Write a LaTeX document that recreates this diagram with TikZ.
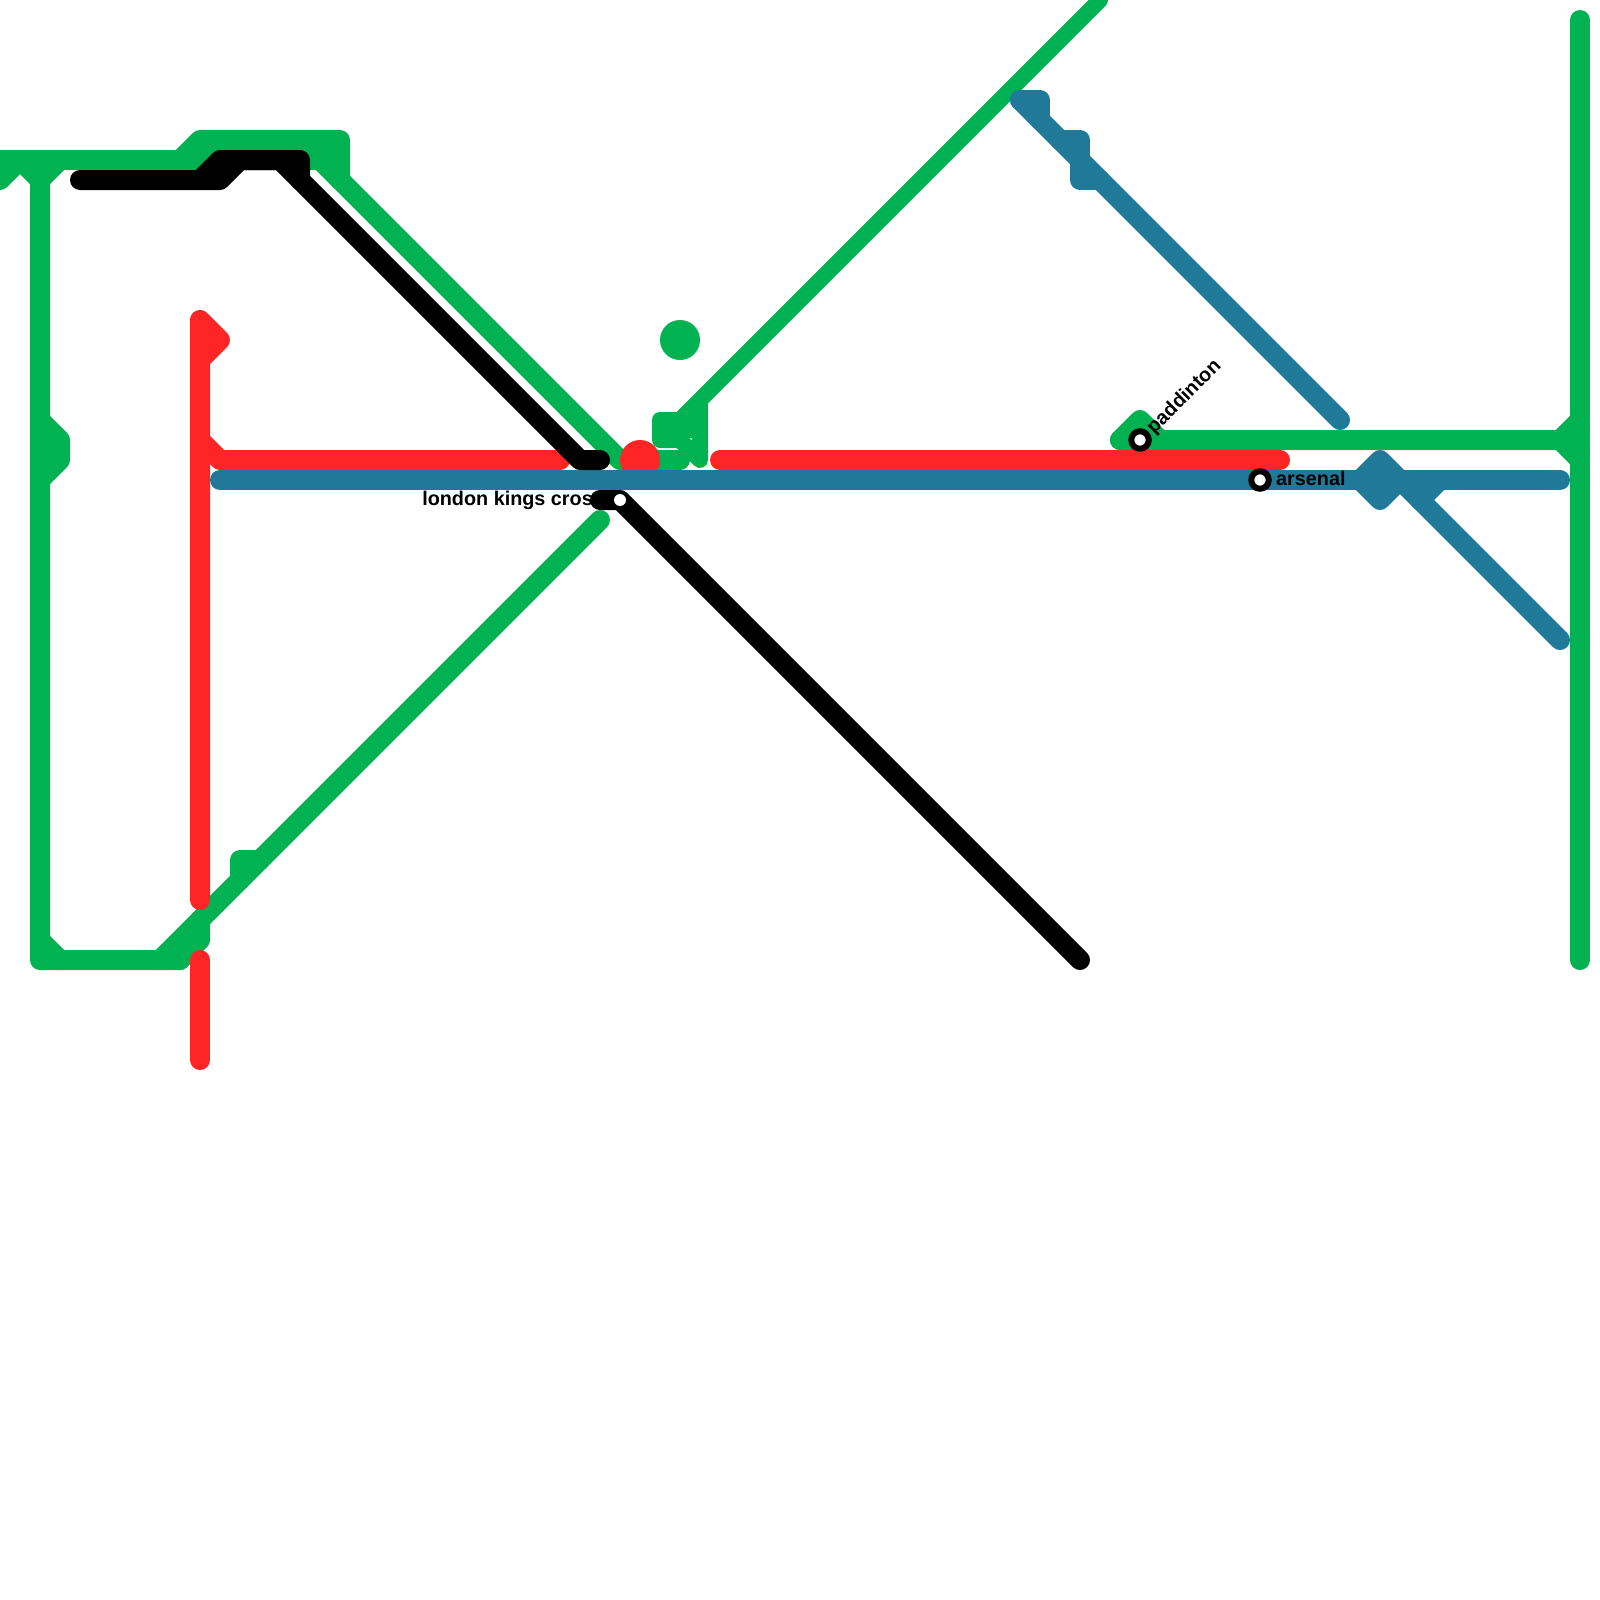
\documentclass[tikz,border=0pt]{standalone}
\usepackage{fontspec}
\setmainfont{Liberation Sans}
\definecolor{lgreen}{HTML}{00B251}
\definecolor{lred}{HTML}{FF2526}
\definecolor{lblue}{HTML}{21799A}
\tikzset{
  metro/.style={line width=20pt,line cap=round,line join=round},
  greenline/.style={metro,draw=lgreen},
  thingreen/.style={metro,draw=lgreen,line width=16pt},
  redline/.style={metro,draw=lred},
  blueline/.style={metro,draw=lblue},
  blackline/.style={metro,draw=black},
  ring/.style={circle,draw=black,fill=white,line width=6pt,minimum size=17.5pt,inner sep=0pt},
  whitedot/.style={circle,fill=white,minimum size=12pt,inner sep=0pt},
  stationlabel/.style={font=\bfseries\fontsize{19.8}{20}\selectfont,text=black,inner sep=0pt}
}
\begin{document}
\begin{tikzpicture}[x=1pt,y=-1pt]
\useasboundingbox (0,0) rectangle (1600,1600);
\clip (0,0) rectangle (1600,1600);
\fill[white] (0,0) rectangle (1600,1600);
% green
\draw[greenline] (0,180) -- (20,160) -- (40,180) -- (60,160) -- (180,160) -- (200,140) -- (340,140) -- (340,180) -- (620,460) -- (680,460);
\draw[greenline] (0,160) -- (340,160);
\draw[greenline] (300,140) -- (340,180);
\draw[greenline] (40,170) -- (40,960) -- (180,960) -- (200,940) -- (200,920);
\draw[greenline] (40,420) -- (60,440) -- (60,460) -- (40,480);
\draw[greenline] (40,940) -- (60,960);
\draw[greenline] (600,520) -- (160,960);
\draw[greenline] (240,880) -- (240,860) -- (260,860);
\draw[greenline] (180,960) -- (200,920);
\fill[lgreen] (680,340) circle[radius=20pt];
\draw[thingreen] (1100,0) -- (680,420) -- (660,420) -- (660,440) -- (680,440) -- (700,460) -- (700,400);
\draw[thingreen] (660,430) -- (700,430);
\draw[thingreen] (680,420) -- (700,420);
\draw[greenline] (1120,440) -- (1140,420) -- (1160,440) -- (1580,440);
\draw[greenline] (1120,440) -- (1160,440);
\draw[greenline] (1580,20) -- (1580,960);
\draw[greenline] (1560,440) -- (1580,420);
\draw[greenline] (1560,440) -- (1580,460);
% red
\draw[redline] (200,900) -- (200,320) -- (220,340) -- (200,360);
\draw[redline] (200,440) -- (220,460) -- (560,460);
\draw[redline] (200,960) -- (200,1060);
\draw[redline] (720,460) -- (1280,460);
\fill[lred] (640,460) circle[radius=20pt];
% blue
\draw[blueline] (220,480) -- (1560,480);
\draw[blueline] (1020,100) -- (1340,420);
\draw[blueline] (1020,100) -- (1040,100) -- (1040,120);
\draw[blueline] (1060,140) -- (1080,140) -- (1080,180) -- (1100,180);
\draw[blueline] (1360,480) -- (1380,460) -- (1400,480) -- (1380,500) -- cycle;
\draw[blueline] (1400,480) -- (1560,640);
\draw[blueline] (1440,480) -- (1420,500);
% labels
\node[stationlabel,anchor=base east] (kingslabel) at (604,505) {london kings cross};
\node[stationlabel,anchor=base west] (arsenallabel) at (1276,485) {arsenal};
\node[stationlabel,anchor=base west,rotate=45] (paddlabel) at (1154,435) {paddinton};
% black
\draw[blackline] (80,180) -- (220,180) -- (240,160) -- (280,160) -- (580,460) -- (600,460);
\draw[blackline] (200,180) -- (220,160) -- (300,160) -- (300,180);
\draw[blackline] (600,500) -- (620,500) -- (1080,960);
% stations
\node[ring] (paddington) at (1140,440) {};
\node[ring] (arsenal) at (1260,480) {};
\node[whitedot] (kingscross) at (620,500) {};
\end{tikzpicture}
\end{document}
